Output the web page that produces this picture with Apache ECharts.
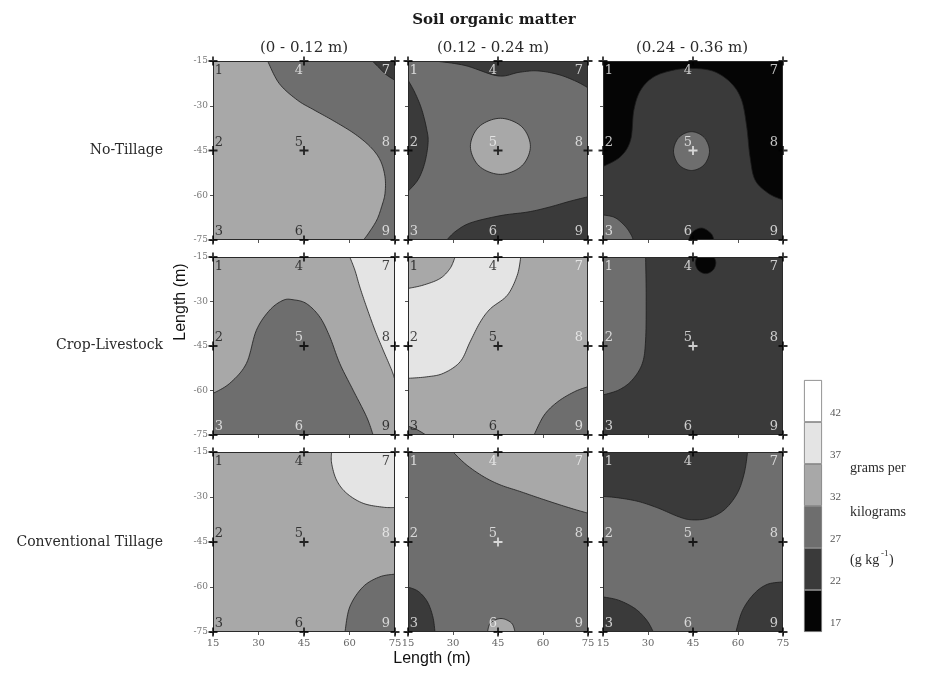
<!DOCTYPE html>
<html><head><meta charset="utf-8">
<script src="https://cdn.jsdelivr.net/npm/echarts@6/dist/echarts.min.js"></script>
<style>html,body{margin:0;padding:0;background:#fff}#c{width:925px;height:674px}</style>
</head><body><div id="c"></div>
<script>
// ---------- data ----------
const levelBreaks = [17, 22, 27, 32, 37, 42];
const levelColors = ['#050505', '#3a3a3a', '#6e6e6e', '#a8a8a8', '#e4e4e4', '#ffffff'];
const depthLabels = ['(0 - 0.12 m)', '(0.12 - 0.24 m)', '(0.24 - 0.36 m)'];
const systemLabels = ['No-Tillage', 'Crop-Livestock', 'Conventional Tillage'];
const pointIds = ['1', '2', '3', '4', '5', '6', '7', '8', '9'];
const pointX = [15, 15, 15, 45, 45, 45, 75, 75, 75];
const pointY = [-15, -45, -75, -15, -45, -75, -15, -45, -75];
const baseLevels = [[3, 2, 0], [3, 3, 1], [3, 2, 2]];

// contour regions (level, boundary curve in metres, closing path outside the plot)
const noTill1 = [
  {lv: 2, c: [[33,-15],[36.8,-22.5],[42.8,-28.1],[48.3,-31.4],[54.3,-34.8],[61.4,-39.2],[66.8,-43.7],[70.1,-48.2],[71.7,-53.8],[71.7,-59.4],[70.6,-63.8],[69,-68.3],[66.3,-72.7],[64.6,-75]], out: [[64.6,-80],[80,-80],[80,-10],[33,-10]]},
  {lv: 1, c: [[67.5,-15],[69.5,-17],[72,-19.5],[75,-21.5]], out: [[80,-21.5],[80,-10],[67.5,-10]]}
];
const noTill2 = [
  {lv: 1, c: [[24,-15],[34,-16.5],[45,-20],[52,-18.8],[58,-18.3],[65,-19.5],[71,-21.8],[75,-24]], out: [[80,-24],[80,-10],[24,-10]]},
  {lv: 1, c: [[15,-21.4],[17.2,-25.4],[19.5,-31],[21.2,-37.7],[21.7,-42.3],[20.6,-49.1],[18.4,-54.7],[15,-58.7]], out: [[10,-58.7],[10,-21.4]]},
  {lv: 1, c: [[27.9,-75],[31,-72],[36,-69.2],[46,-66.8],[55,-65.6],[62,-64],[69,-62],[75,-60.5]], out: [[80,-60.5],[80,-80],[27.9,-80]]},
  {lv: 3, closed: true, c: [[45.8,-34.2],[52.9,-37],[55.8,-43.6],[52.9,-50.2],[45.8,-53],[38.7,-50.2],[35.8,-43.6],[38.7,-37]]}
];
const noTill3 = [
  {lv: 1, c: [[15,-50.4],[20.8,-47.1],[24.2,-41.5],[25.3,-31.4],[27.6,-24.7],[32,-20.3],[38.8,-18],[45.5,-17.5],[52.2,-18.6],[57.8,-22.5],[61.2,-28.1],[62.9,-37],[64,-47.1],[65.7,-54.9],[70.2,-59.4],[75,-61.6]], out: [[80,-61.6],[80,-80],[10,-80],[10,-50.4]]},
  {lv: 2, closed: true, c: [[44.5,-38.7],[48.7,-40.6],[50.5,-45.2],[48.7,-49.8],[44.5,-51.7],[40.3,-49.8],[38.5,-45.2],[40.3,-40.6]]},
  {lv: 2, c: [[15,-66.6],[19,-67.5],[22.5,-70.5],[24.5,-73.5],[25,-75]], out: [[25,-80],[10,-80],[10,-66.6]]},
  {lv: 0, c: [[43.5,-75],[45,-72.2],[48,-71],[51,-72.8],[52,-75]], out: [[52,-80],[43.5,-80]]}
];
const cropLive1 = [
  {lv: 4, c: [[60.1,-15],[61.8,-19.5],[63.4,-25.1],[65.6,-31.8],[68.4,-39.7],[71.1,-46.4],[73.9,-53.1],[75,-56.5]], out: [[80,-56.5],[80,-10],[60.1,-10]]},
  {lv: 2, c: [[15,-61],[20.5,-57.6],[26,-50.9],[29.3,-39.7],[33.7,-32.9],[38.1,-29.6],[41.4,-29.4],[45.8,-30.7],[50.2,-35.2],[53.5,-41.9],[56.8,-50.9],[61.2,-59.9],[65.6,-68.8],[67.8,-75]], out: [[67.8,-80],[10,-80],[10,-61]]}
];
const cropLive2 = [
  {lv: 4, c: [[52.6,-15],[51.4,-21.2],[48.1,-27.9],[42.5,-32.4],[39.1,-36.9],[35.7,-43.6],[32.4,-50.3],[26.8,-54.2],[21.2,-55.4],[15,-55.9]], out: [[10,-55.9],[10,-10],[52.6,-10]]},
  {lv: 3, c: [[30.7,-15],[29,-18.9],[25.6,-22.3],[20,-24.5],[15,-25.6]], out: [[10,-25.6],[10,-10],[30.7,-10]]},
  {lv: 2, c: [[57,-75],[60.4,-68.3],[64.9,-63.8],[70.5,-60.4],[75,-58.7]], out: [[80,-58.7],[80,-80],[57,-80]]},
  {lv: 2, c: [[15,-72],[18,-73.2],[21,-75]], out: [[21,-80],[10,-80],[10,-72]]}
];
const cropLive3 = [
  {lv: 2, c: [[29.2,-15],[29.4,-28.5],[29.2,-43],[28.1,-50.9],[24.7,-56.5],[20.3,-59.8],[15,-61.5]], out: [[10,-61.5],[10,-10],[29.2,-10]]},
  {lv: 0, closed: true, c: [[49.2,-13.4],[51.6,-14.5],[52.6,-17],[51.6,-19.5],[49.2,-20.6],[46.8,-19.5],[45.8,-17],[46.8,-14.5]]}
];
const convTill1 = [
  {lv: 4, c: [[54.1,-15],[54.1,-18.7],[55.7,-24.3],[59,-28.7],[64.5,-32.1],[71.1,-33.4],[75,-33.5]], out: [[80,-33.5],[80,-10],[54.1,-10]]},
  {lv: 2, c: [[58.5,-75],[60.1,-66.6],[64.5,-59.9],[70,-56.6],[75,-55.7]], out: [[80,-55.7],[80,-80],[58.5,-80]]}
];
const convTill2 = [
  {lv: 3, c: [[30,-15],[34.4,-19.2],[40,-23.1],[45.6,-25.9],[52.2,-28.1],[58.9,-30.4],[65.6,-32.6],[71.1,-34.3],[75,-35.4]], out: [[80,-35.4],[80,-10],[30,-10]]},
  {lv: 1, c: [[15,-60],[18.5,-61.5],[21.5,-65],[23.3,-70],[24,-75]], out: [[24,-80],[10,-80],[10,-60]]},
  {lv: 3, c: [[41.5,-75],[42.5,-72],[46,-70.5],[49.5,-72],[50.7,-75]], out: [[50.7,-80],[41.5,-80]]}
];
const convTill3 = [
  {lv: 1, c: [[15,-29.8],[20.2,-30.3],[26.8,-31.5],[33.4,-33.7],[40,-36.5],[44.4,-37.6],[49.9,-37.1],[55.4,-34.3],[59.8,-28.7],[62.1,-22],[63.2,-15]], out: [[63.2,-10],[10,-10],[10,-29.8]]},
  {lv: 1, c: [[15,-63.3],[20.2,-64.4],[25.7,-67.2],[29.6,-71.1],[31.8,-75]], out: [[31.8,-80],[10,-80],[10,-63.3]]},
  {lv: 1, c: [[59.3,-75],[61.5,-67.8],[65.4,-62.2],[69.8,-59.1],[75,-58.3]], out: [[80,-58.3],[80,-80],[59.3,-80]]}
];
const panelRegions = [[noTill1, noTill2, noTill3], [cropLive1, cropLive2, cropLive3], [convTill1, convTill2, convTill3]];
// label colours (w/b) per sample point, and sample points with white cross
const labelInk = [['bbbwbbwww', 'wwwwwwwww', 'wwwwwwwww'], ['bbwbwwbbb', 'bbbbbbwww', 'wwwwwwwww'], ['bbbbbbbww', 'wwwwwwwww', 'wwwwwwwww']];
const whiteCross = [[[], [], [4]], [[], [], [4]], [[], [4], []]];

// ---------- layout ----------
const colX = [[213, 395], [408, 588], [603, 783]];
const rowY = [[61, 240], [257, 435], [452, 632]];
const SERIF = 'DejaVu Serif';

function smooth(pts, closed, n) {
  n = n || 10;
  const out = [], N = pts.length;
  const get = i => closed ? pts[(i + N) % N] : pts[Math.max(0, Math.min(N - 1, i))];
  const segs = closed ? N : N - 1;
  for (let i = 0; i < segs; i++) {
    const p0 = get(i - 1), p1 = get(i), p2 = get(i + 1), p3 = get(i + 2);
    for (let k = 0; k < n; k++) {
      const t = k / n, t2 = t * t, t3 = t2 * t;
      const f = d => 0.5 * (2 * p1[d] + (-p0[d] + p2[d]) * t + (2 * p0[d] - 5 * p1[d] + 4 * p2[d] - p3[d]) * t2 + (-p0[d] + 3 * p1[d] - 3 * p2[d] + p3[d]) * t3);
      out.push([f(0), f(1)]);
    }
  }
  if (!closed) out.push(pts[N - 1]);
  return out;
}

function makeRender(base, regs) {
  return function (params, api) {
    const idx = params.dataIndex;
    const a = api.coord([15, -15]), b = api.coord([75, -75]);
    if (idx === 0) {
      return {type: 'rect', shape: {x: a[0], y: a[1], width: b[0] - a[0], height: b[1] - a[1]}, style: {fill: levelColors[base]}};
    }
    if (idx === regs.length + 1) {
      return {type: 'rect', shape: {x: a[0], y: a[1], width: b[0] - a[0], height: b[1] - a[1]}, style: {fill: null, stroke: '#2a2a2a', lineWidth: 2}};
    }
    const r = regs[idx - 1];
    const px = r.c.map(p => api.coord(p));
    const curve = smooth(px, !!r.closed);
    const poly = r.closed ? curve : curve.concat(r.out.map(p => api.coord(p)));
    return {type: 'group', children: [
      {type: 'polygon', shape: {points: poly}, style: {fill: levelColors[r.lv]}},
      {type: 'polyline', shape: {points: r.closed ? curve.concat([curve[0]]) : curve}, style: {fill: null, stroke: '#1c1c1c', lineWidth: 0.8}}
    ]};
  };
}

const xOff = {15: 6, 45: -5, 75: -9};
const yOff = {'-15': 10, '-45': -8, '-75': -8};
const crossPath = 'path://M3.2,0H4.8V3.2H8V4.8H4.8V8H3.2V4.8H0V3.2H3.2Z';

const grids = [], xAxes = [], yAxes = [], series = [];
for (let r = 0; r < 3; r++) {
  for (let c = 0; c < 3; c++) {
    const i = grids.length;
    grids.push({left: colX[c][0], top: rowY[r][0], width: colX[c][1] - colX[c][0], height: rowY[r][1] - rowY[r][0], show: false});
    xAxes.push({gridIndex: i, type: 'value', min: 15, max: 75, interval: 15,
      axisLine: {show: false}, axisTick: {show: true, length: 3, lineStyle: {color: '#555'}},
      splitLine: {show: false},
      axisLabel: {show: r === 2, color: '#666', fontSize: 10, fontFamily: SERIF, margin: 6}});
    yAxes.push({gridIndex: i, type: 'value', min: -75, max: -15, interval: 15,
      axisLine: {show: false}, axisTick: {show: true, length: 3, lineStyle: {color: '#555'}},
      splitLine: {show: false},
      axisLabel: {show: c === 0, color: '#777', fontSize: 9, fontFamily: SERIF, margin: 5}});
    const regs = panelRegions[r][c];
    const data = [[15, -15]].concat(regs.map(g => g.c[0])).concat([[75, -75]]);
    series.push({type: 'custom', xAxisIndex: i, yAxisIndex: i, clip: true, silent: true, animation: false,
      renderItem: makeRender(baseLevels[r][c], regs), data: data, z: 1});
    const ink = labelInk[r][c];
    series.push({type: 'scatter', xAxisIndex: i, yAxisIndex: i, clip: false, silent: true, animation: false, z: 5,
      symbol: crossPath, symbolSize: 9,
      data: pointX.map((x, k) => ({
        value: [x, pointY[k]],
        itemStyle: {color: whiteCross[r][c].indexOf(k) >= 0 ? '#f2f2f2' : '#000'},
        label: {show: true, position: 'inside', formatter: pointIds[k], offset: [xOff[x], yOff[String(pointY[k])]],
          color: ink[k] === 'w' ? '#f2f2f2' : '#141414', fontSize: 13, fontFamily: SERIF}
      }))});
  }
}
// legend colour bar
const li = grids.length;
grids.push({left: 804, top: 380, width: 18, height: 252, show: false});
xAxes.push({gridIndex: li, type: 'category', data: ['g kg-1'], show: false});
yAxes.push({gridIndex: li, type: 'value', min: 0, max: 6, interval: 1, position: 'right',
  axisLine: {show: false}, axisTick: {show: false}, splitLine: {show: false},
  axisLabel: {show: true, formatter: v => v < 6 ? String(levelBreaks[v]) : '', verticalAlign: 'bottom', padding: [0, 0, 3, 0],
    color: '#555', fontSize: 11, fontFamily: 'Liberation Serif', margin: 8}});
levelBreaks.forEach((lb, k) => {
  series.push({type: 'bar', xAxisIndex: li, yAxisIndex: li, stack: 'legend', barWidth: '100%', silent: true, animation: false,
    data: [1], itemStyle: {color: levelColors[k], borderColor: '#777', borderWidth: 0.8}});
});

const txt = (x, y, text, font, extra) => Object.assign({type: 'text', x: x, y: y, silent: true,
  style: Object.assign({text: text, fill: '#2a2a2a', font: font, textAlign: 'center', textVerticalAlign: 'middle'}, extra || {})});
const graphics = [
  txt(494, 20, 'Soil organic matter', 'bold 15px "DejaVu Serif"', {fill: '#1a1a1a'}),
  txt(304, 48, depthLabels[0], '15px "DejaVu Serif"'),
  txt(493, 48, depthLabels[1], '15px "DejaVu Serif"'),
  txt(692, 48, depthLabels[2], '15px "DejaVu Serif"'),
  txt(163, 150, systemLabels[0], '14px "DejaVu Serif"', {textAlign: 'right'}),
  txt(163, 345, systemLabels[1], '14px "DejaVu Serif"', {textAlign: 'right'}),
  txt(163, 542, systemLabels[2], '14px "DejaVu Serif"', {textAlign: 'right'}),
  txt(432, 659, 'Length (m)', '16px "Liberation Sans"', {fill: '#111'}),
  Object.assign(txt(181, 302, 'Length (m)', '16px "Liberation Sans"', {fill: '#111'}), {rotation: Math.PI / 2}),
  txt(850, 468, 'grams per', '14px "Liberation Serif"', {textAlign: 'left'}),
  txt(850, 512, 'kilograms', '14px "Liberation Serif"', {textAlign: 'left'}),
  txt(850, 560, '(g kg', '14px "Liberation Serif"', {textAlign: 'left'}),
  txt(881, 554, '-1', '9px "Liberation Serif"', {textAlign: 'left'}),
  txt(889, 560, ')', '14px "Liberation Serif"', {textAlign: 'left'})
];

const chart = echarts.init(document.getElementById('c'), null, {renderer: 'canvas'});
chart.setOption({
  backgroundColor: '#fff',
  animation: false,
  grid: grids, xAxis: xAxes, yAxis: yAxes, series: series,
  graphic: graphics
});
</script></body></html>
